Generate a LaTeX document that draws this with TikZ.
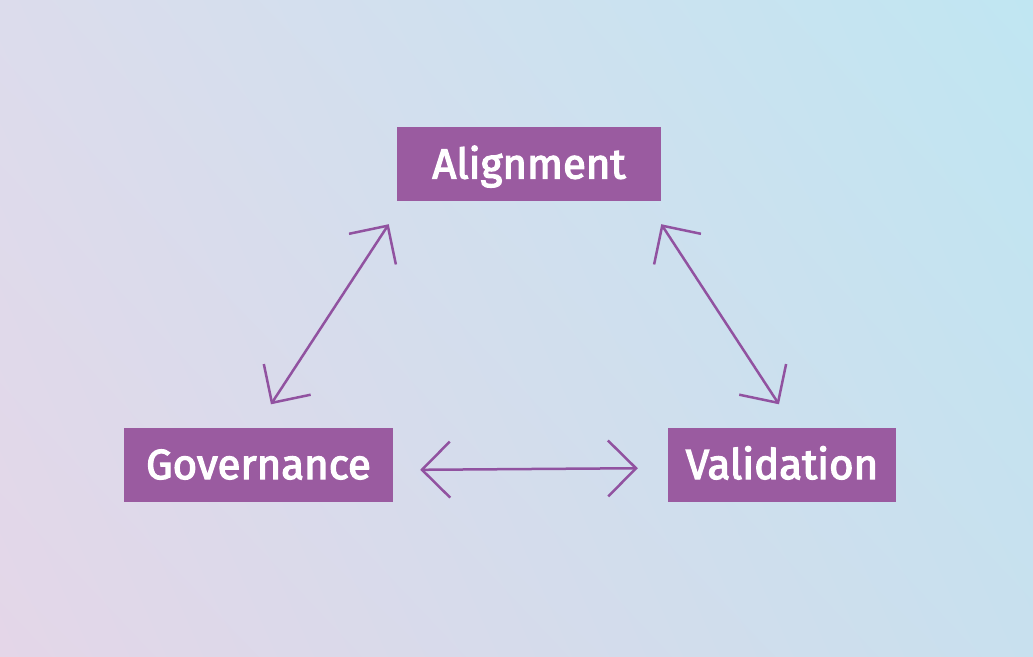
\documentclass[tikz,border=0pt]{standalone}
\usepackage{fontspec}
\setmainfont{Fira Sans}
\usetikzlibrary{arrows.meta, positioning, calc, shadings}
\definecolor{boxpurple}{RGB}{154, 91, 160}
\definecolor{linepurple}{RGB}{145, 82, 160}
\definecolor{bgtl}{RGB}{220, 220, 236}
\definecolor{bgtr}{RGB}{192, 230, 242}
\definecolor{bgbl}{RGB}{228, 214, 232}
\definecolor{bgbr}{RGB}{200, 224, 238}

\tikzset{
  termbox/.style={fill=boxpurple, text=white,
    font=\fontsize{42}{50}\selectfont\addfontfeatures{FakeBold=3},
    minimum height=74pt, text height=29pt, text depth=0pt, inner sep=0pt},
  linkarrow/.style={draw=linepurple, line width=2.5pt,
    {Straight Barb[length=28pt, width=56pt]}-{Straight Barb[length=28pt, width=56pt]}}
}

\begin{document}
\begin{tikzpicture}[x=1pt, y=-1pt]
  % background
  \shade[upper left=bgtl, upper right=bgtr, lower left=bgbl, lower right=bgbr]
    (0,0) rectangle (1033,656);
  \useasboundingbox (0,0) rectangle (1033,656);

  % boxes
  \node[termbox, minimum width=264pt] (align) at (529,164) {Alignment};
  \node[termbox, minimum width=269pt] (gov) at (258.5,464.5) {Governance};
  \node[termbox, minimum width=228pt] (valid) at (782,464.5) {Validation};

  % links
  \draw[linkarrow, shorten <=27.5pt, shorten >=27.5pt]
    ([xshift=-2.6pt]gov.north) -- ([xshift=7pt]align.south west);
  \draw[linkarrow, shorten <=27.5pt, shorten >=27.5pt]
    ([xshift=-15pt]align.south east) -- ([xshift=12pt]valid.north);
  \draw[linkarrow, shorten <=27pt, shorten >=30pt]
    ([yshift=-5.5pt]gov.east) -- ([yshift=-3.5pt]valid.west);
\end{tikzpicture}
\end{document}
